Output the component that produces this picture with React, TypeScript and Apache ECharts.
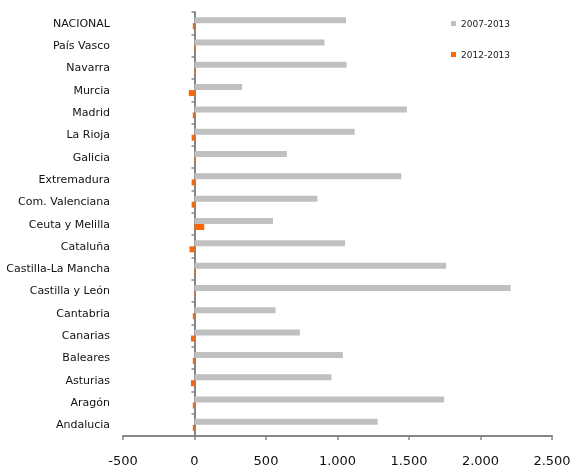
import React, { useEffect, useRef } from "react";
import * as echarts from "echarts";

const categories = [
  "Andalucia", "Aragón", "Asturias", "Baleares", "Canarias", "Cantabria",
  "Castilla y León", "Castilla-La Mancha", "Cataluña", "Ceuta y Melilla",
  "Com. Valenciana", "Extremadura", "Galicia", "La Rioja", "Madrid",
  "Murcia", "Navarra", "País Vasco", "NACIONAL",
];
const series2007 = [1281, 1746, 958, 1037, 737, 567, 2210, 1760, 1053, 549, 860, 1446, 646, 1120, 1485, 333, 1063, 909, 1060];
const series2012 = [-12, -12, -25, -12, -25, -12, -3, -3, -35, 68, -20, -20, -3, -20, -12, -40, -3, -3, -12];
const xTicks = { min: -500, max: 2500, interval: 500 };

export default function App() {
  const ref = useRef<HTMLDivElement>(null);
  useEffect(() => {
    if (!ref.current) return;
    const chart = echarts.init(ref.current, null, { renderer: "svg" });
    const font = "DejaVu Sans, Verdana, sans-serif";
    chart.setOption({
      animation: false,
      textStyle: { fontFamily: font },
      grid: {
        left: 123, right: 20, top: 12, bottom: 32,
        containLabel: false, outerBoundsMode: "none",
      },
      legend: {
        orient: "vertical",
        left: 446,
        top: 14,
        itemWidth: 5,
        itemHeight: 5,
        itemGap: 22,
        icon: "rect",
        textStyle: { fontSize: 9, color: "#222", fontFamily: font },
        data: ["2007-2013", "2012-2013"],
      },
      xAxis: {
        type: "value",
        min: xTicks.min,
        max: xTicks.max,
        interval: xTicks.interval,
        position: "bottom",
        splitLine: { show: false },
        axisLine: { show: true, onZero: false, lineStyle: { color: "#868686", width: 2 } },
        axisTick: { show: true, length: 4, lineStyle: { color: "#868686", width: 1.5 } },
        axisLabel: {
          color: "#111",
          fontSize: 13,
          margin: 18,
          fontFamily: font,
          formatter: (v: number) => {
            const s = Math.abs(v).toString().replace(/\B(?=(\d{3})+(?!\d))/g, ".");
            return (v < 0 ? "-" : "") + s;
          },
        },
      },
      yAxis: {
        type: "category",
        data: categories,
        axisLine: { show: true, onZero: true, lineStyle: { color: "#868686", width: 2 } },
        axisTick: { show: true, length: 3, lineStyle: { color: "#868686", width: 1.5 } },
        axisLabel: { color: "#111", fontSize: 11, margin: 13, fontFamily: font },
      },
      series: [
        {
          name: "2007-2013",
          type: "bar",
          data: series2007,
          barWidth: 6,
          barGap: "0%",
          itemStyle: { color: "#C0C0C0" },
        },
        {
          name: "2012-2013",
          type: "bar",
          data: series2012,
          barWidth: 6,
          barGap: "0%",
          itemStyle: { color: "#FF6600" },
        },
      ],
    });
    return () => chart.dispose();
  }, []);
  return (
    <div
      ref={ref}
      style={{ position: "fixed", left: 0, top: 0, width: 572, height: 468 }}
    />
  );
}
